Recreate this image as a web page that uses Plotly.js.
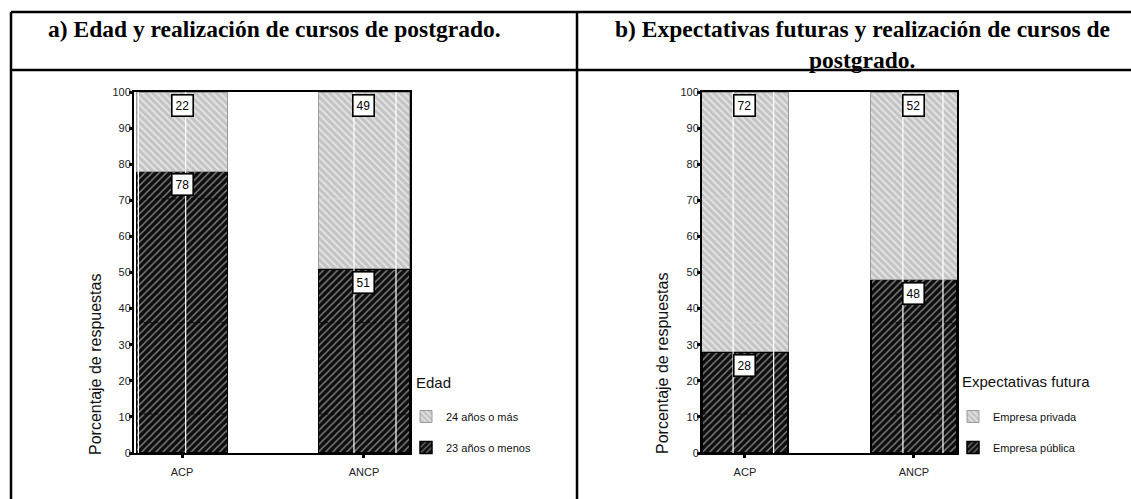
<!DOCTYPE html>
<html>
<head>
<meta charset="utf-8">
<script src="https://cdn.plot.ly/plotly-3.0.1.min.js"></script>
<style>
  html, body { margin: 0; padding: 0; background: #fff; }
  #chart { width: 1131px; height: 499px; }
</style>
</head>
<body>
<div id="chart"></div>
<script>
// ---------- data ----------
const categories = ['ACP', 'ANCP'];
const edadMenos23 = [78, 51];   // 23 años o menos (bottom)
const edadMas24 = [22, 49];     // 24 años o más (top)
const expPublica = [28, 48];    // Empresa pública (bottom)
const expPrivada = [72, 52];    // Empresa privada (top)
const yTicks = [0, 10, 20, 30, 40, 50, 60, 70, 80, 90, 100];

// ---------- helpers ----------
const W = 1131, H = 499;
const px = v => v / W;
const py = v => 1 - v / H;
const SANS = 'Liberation Sans, Arial, sans-serif';

const darkMarker = {
  color: '#111',
  line: { color: '#000', width: 1.5 },
  pattern: { shape: '/', bgcolor: '#0e0e0e', fgcolor: '#858585', size: 5, solidity: 0.28, fillmode: 'replace' }
};
const lightMarker = {
  color: '#c6c6c6',
  line: { color: '#9a9a9a', width: 1 },
  pattern: { shape: '\\', bgcolor: '#c4c4c4', fgcolor: '#e6e6e6', size: 5, solidity: 0.35, fillmode: 'replace' }
};

const traces = [
  { type: 'bar', x: categories, y: edadMenos23, name: '23 años o menos', xaxis: 'x', yaxis: 'y',
    width: 0.5, marker: darkMarker, legend: 'legend', legendgroup: 'a1', legendrank: 2, hoverinfo: 'skip' },
  { type: 'bar', x: categories, y: edadMas24, name: '24 años o más', xaxis: 'x', yaxis: 'y',
    width: 0.5, marker: lightMarker, legend: 'legend', legendgroup: 'a2', legendrank: 1, hoverinfo: 'skip' },
  { type: 'bar', x: categories, y: expPublica, name: 'Empresa pública', xaxis: 'x2', yaxis: 'y2',
    width: 0.51, marker: darkMarker, legend: 'legend2', legendgroup: 'b1', legendrank: 2, hoverinfo: 'skip' },
  { type: 'bar', x: categories, y: expPrivada, name: 'Empresa privada', xaxis: 'x2', yaxis: 'y2',
    width: 0.51, marker: lightMarker, legend: 'legend2', legendgroup: 'b2', legendrank: 1, hoverinfo: 'skip' }
];

// value label boxes
const annotations = [];
function addLabels(bottom, top, xref, yref) {
  categories.forEach((c, i) => {
    [[bottom[i], bottom[i]], [top[i], bottom[i] + top[i]]].forEach(([val, yTop]) => {
      annotations.push({
        x: c, y: yTop, xref: xref, yref: yref, text: String(val), showarrow: false,
        yanchor: 'top', yshift: -2,
        font: { family: SANS, size: 12, color: '#000' },
        bgcolor: '#fff', bordercolor: '#000', borderwidth: 1.6, borderpad: 3
      });
    });
  });
}
addLabels(edadMenos23, edadMas24, 'x', 'y');
addLabels(expPublica, expPrivada, 'x2', 'y2');

// header titles
const titleFont = { family: 'Liberation Serif, Times New Roman, serif', size: 23.5, color: '#000' };
annotations.push(
  { xref: 'paper', yref: 'paper', x: px(274), y: py(29), text: '<b>a) Edad y realización de cursos de postgrado.</b>',
    showarrow: false, font: titleFont, xanchor: 'center', yanchor: 'middle' },
  { xref: 'paper', yref: 'paper', x: px(862), y: py(29), text: '<b>b) Expectativas futuras y realización de cursos de</b>',
    showarrow: false, font: titleFont, xanchor: 'center', yanchor: 'middle' },
  { xref: 'paper', yref: 'paper', x: px(862), y: py(60), text: '<b>postgrado.</b>',
    showarrow: false, font: titleFont, xanchor: 'center', yanchor: 'middle' }
);
// y-axis titles
const yTitleFont = { family: SANS, size: 16, color: '#111' };
annotations.push(
  { xref: 'paper', yref: 'paper', x: px(95), y: py(364), text: 'Porcentaje de respuestas', textangle: -90,
    showarrow: false, font: yTitleFont, xanchor: 'center', yanchor: 'middle' },
  { xref: 'paper', yref: 'paper', x: px(662), y: py(364), text: 'Porcentaje de respuestas', textangle: -90,
    showarrow: false, font: yTitleFont, xanchor: 'center', yanchor: 'middle' }
);
// legend titles
const legTitleFont = { family: SANS, size: 15, color: '#111' };
annotations.push(
  { xref: 'paper', yref: 'paper', x: px(414), y: py(382), text: 'Edad', showarrow: false,
    font: legTitleFont, xanchor: 'left', yanchor: 'middle' },
  { xref: 'paper', yref: 'paper', x: px(960), y: py(381), text: 'Expectativas futura', showarrow: false,
    font: legTitleFont, xanchor: 'left', yanchor: 'middle' }
);

// table borders
const border = { color: '#000', width: 2.5 };
const shapes = [
  { type: 'line', xref: 'paper', yref: 'paper', x0: px(11), x1: px(1131), y0: py(12), y1: py(12), line: border },
  { type: 'line', xref: 'paper', yref: 'paper', x0: px(11), x1: px(1131), y0: py(70), y1: py(70), line: border },
  { type: 'line', xref: 'paper', yref: 'paper', x0: px(11), x1: px(11), y0: py(12), y1: py(499), line: border },
  { type: 'line', xref: 'paper', yref: 'paper', x0: px(577), x1: px(577), y0: py(12), y1: py(499), line: border }
];

// rendering artefacts inside the bars (decorative): white vertical streaks and faint horizontal bands
const streakOffsetsA = [[-0.24, 0.02], [-0.055, 0.176]];
const streakOffsetsB = [[-0.07, 0.17], [-0.065, 0.172]];
const bandLevels = [10.8, 36.1, 70.4];
function addArtefacts(xref, yref, offsets, bottom, top, halfWidth) {
  categories.forEach((c, i) => {
    bandLevels.forEach(lv => {
      const inDark = lv < bottom[i];
      shapes.push({ type: 'line', xref: xref, yref: yref, x0: i - halfWidth, x1: i + halfWidth, y0: lv, y1: lv,
        line: { color: inDark ? '#000' : '#d6d6d6', width: 1, dash: inDark ? 'dot' : 'solid' }, layer: 'above' });
    });
    offsets[i].forEach(o => {
      shapes.push({ type: 'line', xref: xref, yref: yref, x0: i + o, x1: i + o, y0: 0, y1: bottom[i] + top[i],
        line: { color: '#fff', width: 1.2 }, layer: 'above' });
    });
  });
}
addArtefacts('x', 'y', streakOffsetsA, edadMenos23, edadMas24, 0.245);
addArtefacts('x2', 'y2', streakOffsetsB, expPublica, expPrivada, 0.25);

const xaxisBase = {
  type: 'category', tickvals: categories, showgrid: false, zeroline: false,
  showline: true, linecolor: '#000', linewidth: 2, mirror: true,
  ticks: 'outside', ticklen: 3, tickwidth: 3, tickcolor: '#000', ticklabelstandoff: 5,
  tickfont: { family: SANS, size: 11, color: '#222' }, fixedrange: true
};
const yaxisBase = {
  range: [0, 100], tickvals: yTicks, showgrid: false, zeroline: false,
  showline: true, linecolor: '#000', linewidth: 2, mirror: true,
  ticks: 'outside', ticklen: 3, tickwidth: 3, tickcolor: '#000', ticklabelstandoff: -4,
  tickfont: { family: SANS, size: 11, color: '#222' }, fixedrange: true
};

const legendBase = {
  bgcolor: 'rgba(0,0,0,0)', borderwidth: 0, traceorder: 'grouped', tracegroupgap: 12,
  font: { family: SANS, size: 11, color: '#111' },
  xanchor: 'left', yanchor: 'top', itemclick: false, itemdoubleclick: false
};

const layout = {
  width: W, height: H,
  margin: { l: 0, r: 0, t: 0, b: 0 },
  paper_bgcolor: '#fff', plot_bgcolor: 'rgba(0,0,0,0)',
  barmode: 'stack', bargap: 0,
  showlegend: true,
  xaxis: Object.assign({}, xaxisBase, { domain: [px(134), px(410)], range: [-0.264, 1.253], anchor: 'y' }),
  yaxis: Object.assign({}, yaxisBase, { domain: [py(453), py(92)], anchor: 'x' }),
  xaxis2: Object.assign({}, xaxisBase, { domain: [px(702), px(957)], range: [-0.254, 1.255], anchor: 'y2' }),
  yaxis2: Object.assign({}, yaxisBase, { domain: [py(453), py(92)], anchor: 'x2' }),
  legend: Object.assign({}, legendBase, { x: px(406), y: py(402) }),
  legend2: Object.assign({}, legendBase, { x: px(953), y: py(402) }),
  annotations: annotations,
  shapes: shapes
};

Plotly.newPlot('chart', traces, layout, { displayModeBar: false, staticPlot: true });
</script>
</body>
</html>
